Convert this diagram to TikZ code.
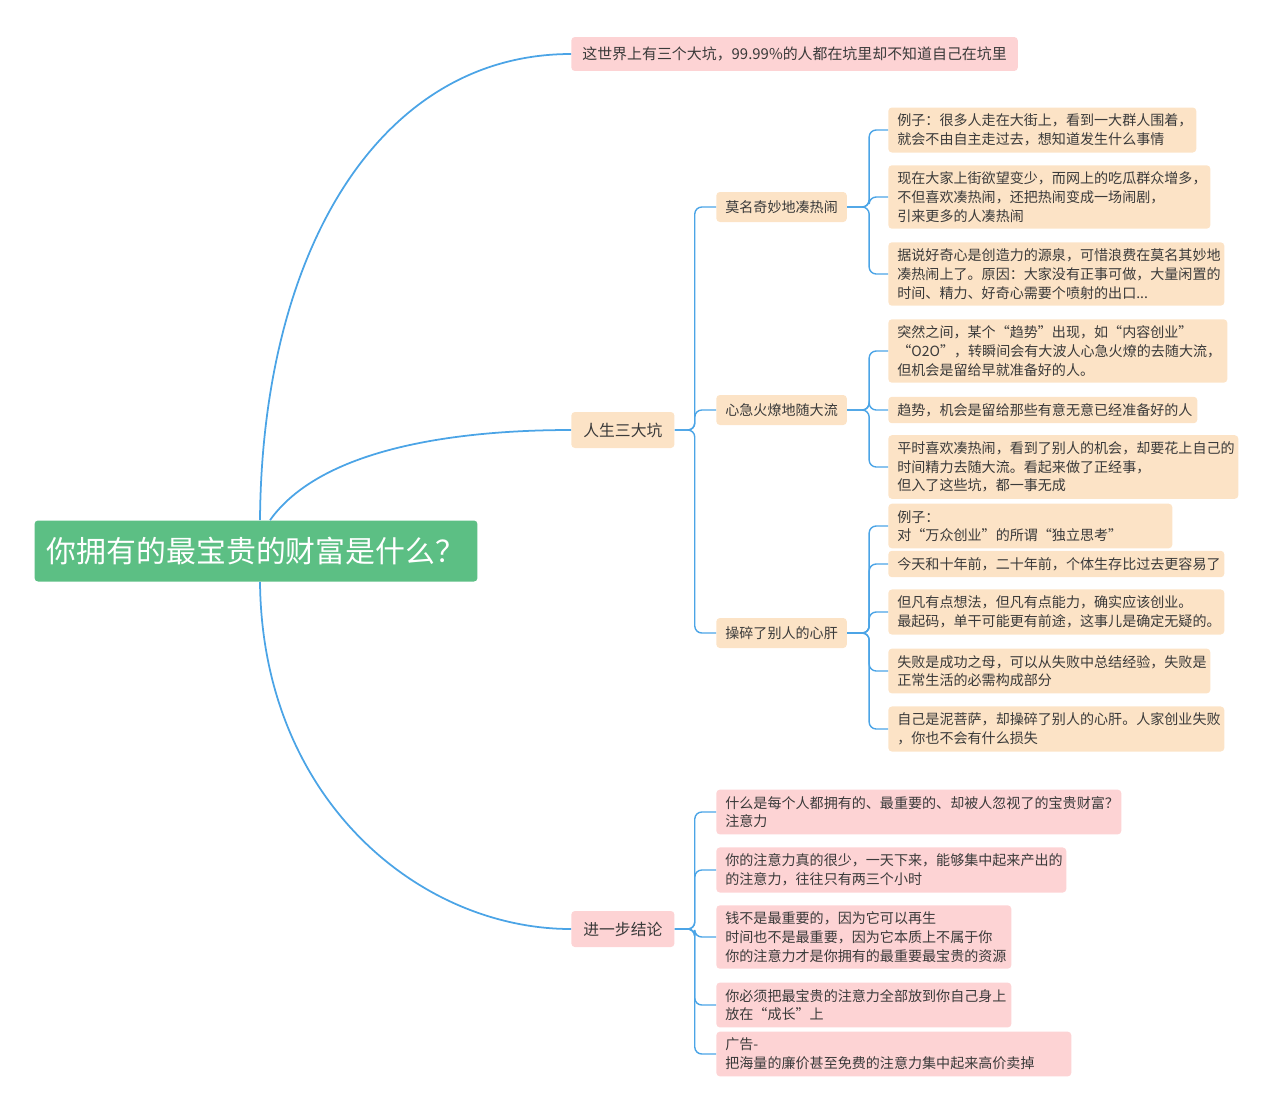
\documentclass[tikz,border=0pt]{standalone}
\usepackage{fontspec}
\setmainfont{Noto Sans CJK SC}
\usetikzlibrary{positioning,calc}
\definecolor{rootgreen}{HTML}{5CBF84}
\definecolor{leaforange}{HTML}{FCE3C6}
\definecolor{leafpink}{HTML}{FDD3D4}
\definecolor{linkblue}{HTML}{4BA4E6}
\definecolor{txtgray}{HTML}{3A3A3A}
\tikzset{
  box/.style={rectangle,rounded corners=2pt,draw=none,text=txtgray,align=left,
    inner xsep=0.18cm,inner ysep=0.13cm,font=\fontsize{8}{10.6}\selectfont},
  orangebox/.style={box,fill=leaforange},
  pinkbox/.style={box,fill=leafpink},
  midbox/.style={box,font=\fontsize{9}{11}\selectfont,minimum height=0.72cm,inner xsep=0.24cm},
  link/.style={draw=linkblue,line width=1pt},
  bracket/.style={draw=linkblue,line width=0.8pt,rounded corners=4pt}
}
\begin{document}
\begin{tikzpicture}[x=0.02cm,y=-0.02cm]
\useasboundingbox (0,0) rectangle (1280,1109);
%root
\node[rectangle,rounded corners=2pt,fill=rootgreen,text=white,minimum width=8.86cm,minimum height=1.22cm,
  font=\fontsize{17}{20}\selectfont] (root) at (256,551) {你拥有的最宝贵的财富是什么？};
%first level
\node[box,fill=leafpink,anchor=west,font=\fontsize{8.5}{11}\selectfont,minimum height=0.68cm,inner xsep=0.22cm] (pit) at (571,54)
  {这世界上有三个大坑，99.99\%的人都在坑里却不知道自己在坑里};
\node[midbox,fill=leaforange,anchor=west] (three) at (571,430) {人生三大坑};
\node[midbox,fill=leafpink,anchor=west] (concl) at (571,929) {进一步结论};
\draw[link] ($(root.north)+(4,0)$) .. controls (262,250) and (380,54) .. (pit.west);
\draw[link] ($(root.north)+(14,0)$) .. controls (320,450) and (450,430) .. (three.west);
\draw[link] ($(root.south)+(4,0)$) .. controls (262,800) and (420,929) .. (concl.west);
%second level
\node[orangebox,anchor=west,minimum height=0.6cm] (crowd) at (716,207) {莫名奇妙地凑热闹};
\node[orangebox,anchor=west,minimum height=0.6cm] (trend) at (716,410) {心急火燎地随大流};
\node[orangebox,anchor=west,minimum height=0.6cm] (worry) at (716,633) {操碎了别人的心肝};
\foreach \n in {crowd,trend,worry}
  \draw[bracket] (three.east) -- ++(20,0) |- (\n.west);
%leaves
\node[orangebox,anchor=west,text width=5.8cm] (c1) at (888,130) {例子：很多人走在大街上，看到一大群人围着，\\就会不由自主走过去，想知道发生什么事情};
\node[orangebox,anchor=west,text width=6.08cm] (c2) at (888,197) {现在大家上街欲望变少，而网上的吃瓜群众增多，\\不但喜欢凑热闹，还把热闹变成一场闹剧，\\引来更多的人凑热闹};
\node[orangebox,anchor=west,text width=6.36cm] (c3) at (888,274) {据说好奇心是创造力的源泉，可惜浪费在莫名其妙地\\凑热闹上了。原因：大家没有正事可做，大量闲置的\\时间、精力、好奇心需要个喷射的出口...};
\node[orangebox,anchor=west,text width=6.42cm] (t1) at (888,351) {突然之间，某个“趋势”出现，如“内容创业”\\“O2O”，转瞬间会有大波人心急火燎的去随大流，\\但机会是留给早就准备好的人。};
\node[orangebox,anchor=west,text width=5.82cm] (t2) at (888,410) {趋势，机会是留给那些有意无意已经准备好的人};
\node[orangebox,anchor=west,text width=6.64cm] (t3) at (888,467) {平时喜欢凑热闹，看到了别人的机会，却要花上自己的\\时间精力去随大流。看起来做了正经事，\\但入了这些坑，都一事无成};
\node[orangebox,anchor=west,text width=5.32cm] (w1) at (888,526) {例子： 对“万众创业”的所谓“独立思考”};
\node[orangebox,anchor=west,text width=6.36cm] (w2) at (888,564) {今天和十年前，二十年前，个体生存比过去更容易了};
\node[orangebox,anchor=west,text width=6.36cm] (w3) at (888,612) {但凡有点想法，但凡有点能力，确实应该创业。\\最起码，单干可能更有前途，这事儿是确定无疑的。};
\node[orangebox,anchor=west,text width=6.08cm] (w4) at (888,671) {失败是成功之母，可以从失败中总结经验，失败是\\正常生活的必需构成部分};
\node[orangebox,anchor=west,text width=6.36cm] (w5) at (888,729) {自己是泥菩萨，却操碎了别人的心肝。人家创业失败\\，你也不会有什么损失};
\foreach \n in {c1,c2,c3} \draw[bracket] (crowd.east) -- ++(22,0) |- (\n.west);
\foreach \n in {t1,t2,t3} \draw[bracket] (trend.east) -- ++(22,0) |- (\n.west);
\foreach \n in {w1,w2,w3,w4,w5} \draw[bracket] (worry.east) -- ++(22,0) |- (\n.west);
%conclusions
\node[pinkbox,anchor=west,text width=7.74cm] (k1) at (716,812) {什么是每个人都拥有的、最重要的、却被人忽视了的宝贵财富？\\注意力};
\node[pinkbox,anchor=west,text width=6.64cm] (k2) at (716,870) {你的注意力真的很少，一天下来，能够集中起来产出的\\的注意力，往往只有两三个小时};
\node[pinkbox,anchor=west,text width=5.54cm] (k3) at (716,937) {钱不是最重要的，因为它可以再生\\时间也不是最重要，因为它本质上不属于你\\你的注意力才是你拥有的最重要最宝贵的资源};
\node[pinkbox,anchor=west,text width=5.54cm] (k4) at (716,1005) {你必须把最宝贵的注意力全部放到你自己身上\\放在“成长”上};
\node[pinkbox,anchor=west,text width=6.74cm] (k5) at (716,1054) {广告-把海量的廉价甚至免费的注意力集中起来高价卖掉};
\foreach \n in {k1,k2,k3,k4,k5} \draw[bracket] (concl.east) -- ++(20,0) |- (\n.west);
\end{tikzpicture}
\end{document}
